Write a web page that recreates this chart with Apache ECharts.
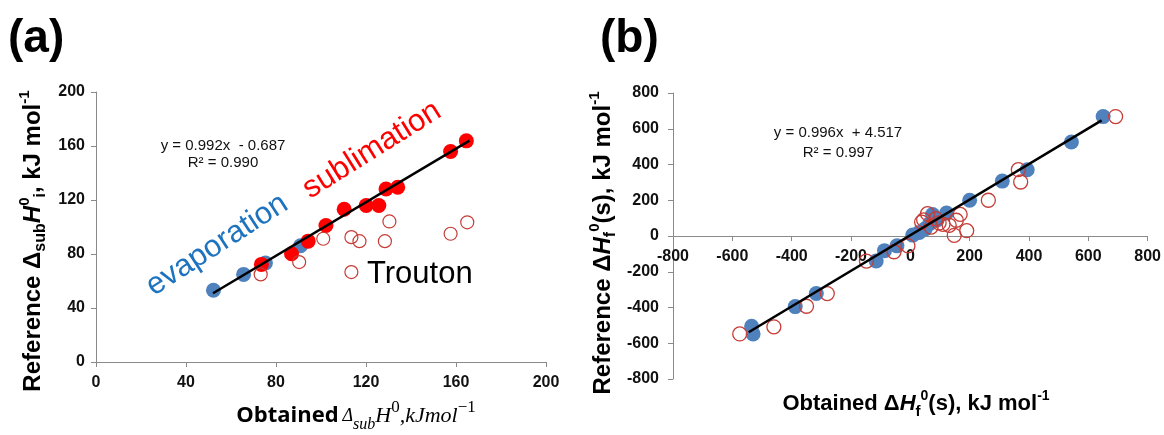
<!DOCTYPE html>
<html>
<head>
<meta charset="utf-8">
<script src="https://cdn.jsdelivr.net/npm/echarts@6/dist/echarts.min.js"></script>
<style>
html,body{margin:0;padding:0;background:#fff;}
#chart{width:1164px;height:435px;}
</style>
</head>
<body>
<div id="chart"></div>
<script>
// ---------- Data: panel (a) ----------
const evaporationA = [[52.2,53.1],[65.6,64.9],[75.3,73.3],[90.9,86.1]];
const sublimationA = [[73.5,72.3],[86.9,80.2],[94.3,89.5],[102.2,101.1],[110.3,113.2],[120.1,115.9],[125.7,115.9],[128.9,128.1],[134.1,129.4],[157.6,155.9],[164.6,163.8]];
const troutonA = [[73.2,64.9],[90.3,74.0],[101,91.3],[113.5,92.5],[117.1,89.5],[128.4,89.5],[130.4,104.1],[113.5,66.6],[157.6,95],[165,103.5]];
const trendCoefA = [0.992, -0.687];
const trendSpanA = [52, 166];
const ticksA = [0, 200, 40];

// ---------- Data: panel (b) ----------
const filledB = [[-535,-505],[-530,-548],[-388,-395],[-317,-322],[-115,-140],[-87,-82],[-45,-55],[8,5],[30,20],[50,40],[66,70],[75,120],[90,90],[122,128],[200,200],[310,307],[394,371],[543,526],[650,668]];
const openB = [[-575,-548],[-460,-508],[-350,-393],[-280,-322],[-148,-140],[-55,-88],[-8,-55],[38,78],[45,90],[58,125],[70,50],[86,97],[97,73],[110,65],[131,60],[148,4],[155,88],[168,121],[190,30],[263,200],[364,371],[372,302],[692,668]];
const trendCoefB = [0.996, 4.517];
const trendSpanB = [-545, 645];
const ticksB = [-800, 800, 200];

function trend(coef, span){ return span.map(x => [x, coef[0]*x + coef[1]]); }

const FONT = '"Liberation Sans", Arial, sans-serif';
const AXIS_COLOR = '#8a8a8a';
const BLUE = '#4F81BD';
const OPEN_RED = '#C63C36';

const gridA = {left:96, top:92, width:450, height:270};
const gridB = {left:673, top:93, width:476, height:286};
// vertical offset that puts panel (b)'s x axis on its y = 0 line
const zeroOffsetB = -gridB.height * (0 - ticksB[0]) / (ticksB[1] - ticksB[0]);

function valAxis(gridIndex, t, extra){
  return Object.assign({
    type:'value', gridIndex, min:t[0], max:t[1], interval:t[2],
    splitLine:{show:false},
    axisLine:{show:true, onZero:false, lineStyle:{color:AXIS_COLOR, width:1}},
    axisTick:{show:true, inside:false, length:5, lineStyle:{color:AXIS_COLOR}},
    axisLabel:{color:'#111', fontFamily:FONT, fontWeight:'bold', fontSize:16, margin:12}
  }, extra || {});
}

const chart = echarts.init(document.getElementById('chart'), null, {renderer:'canvas'});

const titleBase = {fontFamily:FONT, fontWeight:'bold', fontSize:22, fill:'#000', lineHeight:30};
const supS = {fontFamily:FONT, fontWeight:'bold', fontSize:14, lineHeight:14, verticalAlign:'top', fill:'#000'};
const subS = {fontFamily:FONT, fontWeight:'bold', fontSize:15, lineHeight:15, verticalAlign:'bottom', fill:'#000'};
const yTitleBase = {fontFamily:FONT, fontWeight:'bold', fontSize:24, fill:'#000', lineHeight:32};
const ySup = {fontFamily:FONT, fontWeight:'bold', fontSize:15, lineHeight:15, verticalAlign:'top', fill:'#000'};
const ySub = {fontFamily:FONT, fontWeight:'bold', fontSize:16, lineHeight:16, verticalAlign:'bottom', fill:'#000'};

chart.setOption({
  backgroundColor:'#fff',
  animation:false,
  grid:[gridA, gridB],
  xAxis:[
    valAxis(0, ticksA, {axisLabel:{color:'#111', fontFamily:FONT, fontWeight:'bold', fontSize:16, margin:13}}),
    valAxis(1, ticksB, {position:'bottom', offset:zeroOffsetB,
      axisLabel:{color:'#111', fontFamily:FONT, fontWeight:'bold', fontSize:16, margin:13}})
  ],
  yAxis:[
    valAxis(0, ticksA, {axisLabel:{color:'#111', fontFamily:FONT, fontWeight:'bold', fontSize:16, margin:11}}),
    valAxis(1, ticksB, {axisLabel:{color:'#111', fontFamily:FONT, fontWeight:'bold', fontSize:16, margin:14}})
  ],
  series:[
    {name:'evaporation', type:'scatter', xAxisIndex:0, yAxisIndex:0, data:evaporationA,
      symbol:'circle', symbolSize:15, itemStyle:{color:BLUE, opacity:1}, z:2},
    {name:'sublimation', type:'scatter', xAxisIndex:0, yAxisIndex:0, data:sublimationA,
      symbol:'circle', symbolSize:15, itemStyle:{color:'#FF0000', opacity:1}, z:3},
    {name:'Trouton', type:'scatter', xAxisIndex:0, yAxisIndex:0, data:troutonA,
      symbol:'circle', symbolSize:13, itemStyle:{color:'rgba(255,255,255,0)', borderColor:OPEN_RED, borderWidth:1.2, opacity:1}, z:4},
    {name:'fitA', type:'line', xAxisIndex:0, yAxisIndex:0, data:trend(trendCoefA, trendSpanA),
      showSymbol:false, symbol:'none', lineStyle:{color:'#000', width:2.5}, z:5},
    {name:'filledB', type:'scatter', xAxisIndex:1, yAxisIndex:1, data:filledB,
      symbol:'circle', symbolSize:15, itemStyle:{color:BLUE, opacity:1}, z:2},
    {name:'openB', type:'scatter', xAxisIndex:1, yAxisIndex:1, data:openB,
      symbol:'circle', symbolSize:14, itemStyle:{color:'rgba(255,255,255,0)', borderColor:OPEN_RED, borderWidth:1.3, opacity:1}, z:3},
    {name:'fitB', type:'line', xAxisIndex:1, yAxisIndex:1, data:trend(trendCoefB, trendSpanB),
      showSymbol:false, symbol:'none', lineStyle:{color:'#000', width:2.5}, z:5}
  ],
  graphic:[
    {type:'text', x:8, y:16, style:{text:'(a)', fontFamily:FONT, fontWeight:'bold', fontSize:46, fill:'#000'}},
    {type:'text', x:600, y:16, style:{text:'(b)', fontFamily:FONT, fontWeight:'bold', fontSize:46, fill:'#000'}},
    // equations
    {type:'text', x:223, y:146, style:{text:'y = 0.992x  - 0.687', fontFamily:FONT, fontSize:15, fill:'#111', align:'center', verticalAlign:'middle'}},
    {type:'text', x:223, y:163, style:{text:'R² = 0.990', fontFamily:FONT, fontSize:15, fill:'#111', align:'center', verticalAlign:'middle'}},
    {type:'text', x:838, y:133, style:{text:'y = 0.996x  + 4.517', fontFamily:FONT, fontSize:15, fill:'#111', align:'center', verticalAlign:'middle'}},
    {type:'text', x:838, y:153, style:{text:'R² = 0.997', fontFamily:FONT, fontSize:15, fill:'#111', align:'center', verticalAlign:'middle'}},
    // annotations in (a)
    {type:'text', x:217, y:245, rotation:0.575, style:{text:'evaporation', fontFamily:FONT, fontSize:31, fill:'#1E73BE', align:'center', verticalAlign:'middle'}},
    {type:'text', x:372, y:150, rotation:0.56, style:{text:'sublimation', fontFamily:FONT, fontSize:31, fill:'#FF0000', align:'center', verticalAlign:'middle'}},
    {type:'text', x:367, y:274, style:{text:'Trouton', fontFamily:FONT, fontSize:31, fill:'#000', align:'left', verticalAlign:'middle'}},
    // y title (a)
    {type:'text', x:33, y:241, rotation:Math.PI/2, style:{
      text:'{m|Reference Δ}{sub|sub}{it|H}{sup|0}{sub|i}{m|, kJ mol}{sup|-1}',
      align:'center', verticalAlign:'middle',
      rich:{m:yTitleBase, it:Object.assign({}, yTitleBase, {fontStyle:'italic'}), sup:ySup, sub:ySub}
    }},
    // y title (b)
    {type:'text', x:603, y:243, rotation:Math.PI/2, style:{
      text:'{m|Reference Δ}{it|H}{sub|f}{sup|0}{m|(s), kJ mol}{sup|-1}',
      align:'center', verticalAlign:'middle',
      rich:{m:yTitleBase, it:Object.assign({}, yTitleBase, {fontStyle:'italic'}), sup:ySup, sub:ySub}
    }},
    // x title (b)
    {type:'text', x:916, y:404, style:{
      text:'{m|Obtained Δ}{it|H}{sub|f}{sup|0}{m|(s), kJ mol}{sup|-1}',
      align:'center', verticalAlign:'middle',
      rich:{m:titleBase, it:Object.assign({}, titleBase, {fontStyle:'italic'}), sup:supS, sub:subS}
    }},
    // x title (a)
    {type:'text', x:356, y:416, style:{
      text:'{ob|Obtained}{sp| }{d|Δ}{s|sub}{h|H}{p|0}{h|,kJmol}{p|−1}',
      align:'center', verticalAlign:'middle',
      rich:{
        ob:{fontFamily:'"Open Sans", sans-serif', fontWeight:'bold', fontSize:22, lineHeight:34, fill:'#000'},
        sp:{fontFamily:FONT, fontSize:14, lineHeight:34, fill:'#000'},
        d:{fontFamily:'"Liberation Serif", serif', fontStyle:'italic', fontSize:18, lineHeight:34, fill:'#000'},
        s:{fontFamily:'"Liberation Serif", serif', fontStyle:'italic', fontSize:16, lineHeight:16, verticalAlign:'bottom', fill:'#000'},
        h:{fontFamily:'"Liberation Serif", serif', fontStyle:'italic', fontSize:22, lineHeight:34, fill:'#000'},
        p:{fontFamily:'"Liberation Serif", serif', fontSize:17, lineHeight:17, verticalAlign:'top', fill:'#000'}
      }
    }}
  ]
});
</script>
</body>
</html>
